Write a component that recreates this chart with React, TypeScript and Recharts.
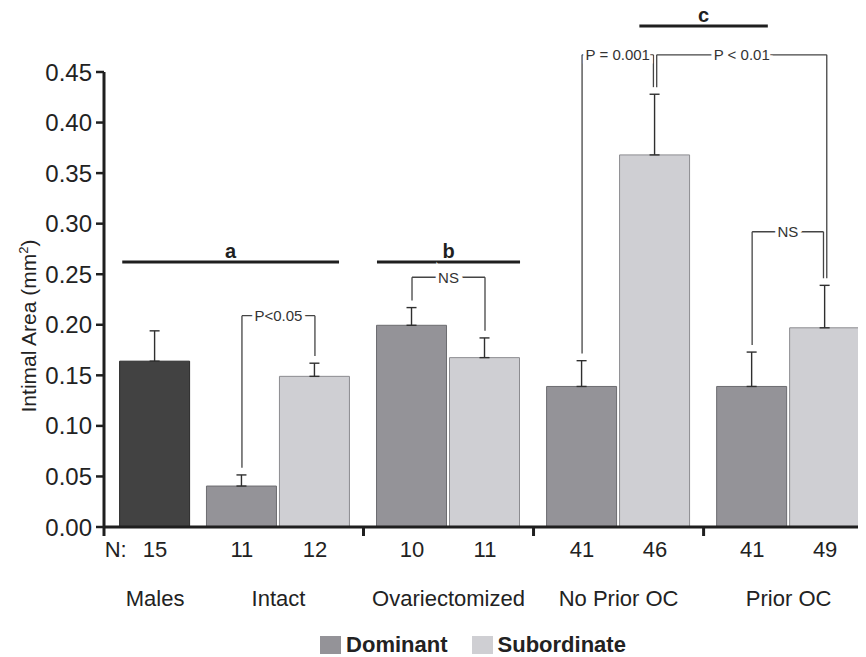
import React from 'react';
import { BarChart, Bar, Cell, XAxis, YAxis, ErrorBar, ReferenceLine, Legend } from 'recharts';

// values (mean + SEM, upper whisker only)
const groupNames = ['Males', 'Intact', 'Ovariectomized', 'No Prior OC', 'Prior OC'];
const malesMean = 0.164;
const malesSem = 0.03;
const malesN = 15;
const dominantMeans = [0.0405, 0.1995, 0.139, 0.139];
const dominantSem = [0.011, 0.0175, 0.0255, 0.034];
const dominantN = [11, 10, 41, 41];
const subordinateMeans = [0.149, 0.1675, 0.368, 0.197];
const subordinateSem = [0.013, 0.0195, 0.06, 0.042];
const subordinateN = [12, 11, 46, 49];
const yTicks = [0, 0.05, 0.1, 0.15, 0.2, 0.25, 0.3, 0.35, 0.4, 0.45];

// significance brackets, by bar index (0 = Males, then Dom/Sub pairs)
const comparisons = [
  { from: 1, to: 2, label: 'P<0.05', level: 0.209 },
  { from: 3, to: 4, label: 'NS', level: 0.247 },
  { from: 5, to: 6, label: 'P = 0.001', level: 0.467 },
  { from: 6, to: 8, label: 'P < 0.01', level: 0.467 },
  { from: 7, to: 8, label: 'NS', level: 0.292 },
];
const groupLetters = ['a', 'b', 'c'];

const FONT = '"Liberation Sans", Arial, Helvetica, sans-serif';
const MALE_FILL = '#424242';
const DOM_FILL = '#949398';
const SUB_FILL = '#cfcfd3';
const INK = '#1f1f1f';

const legendItems = [
  { name: 'Dominant', color: DOM_FILL },
  { name: 'Subordinate', color: SUB_FILL },
];

// x layout in "bar pitch" units
const X_MAX = 10.44;
const MALES_X = 0.7;
const FIRST_PAIR = 1.89;
const PAIR_STEP = 2.33;
const pairX = (g: number) => FIRST_PAIR + PAIR_STEP * g;

const rows = [
  { x: MALES_X, value: malesMean, err: [0, malesSem], n: malesN, kind: 'male' },
  ...dominantMeans.flatMap((m, g) => [
    { x: pairX(g), value: m, err: [0, dominantSem[g]], n: dominantN[g], kind: 'dom' },
    { x: pairX(g) + 1, value: subordinateMeans[g], err: [0, subordinateSem[g]], n: subordinateN[g], kind: 'sub' },
  ]),
];

const fills: Record<string, string> = { male: MALE_FILL, dom: DOM_FILL, sub: SUB_FILL };
const edges: Record<string, string> = { male: '#2a2a2a', dom: '#6c6c70', sub: '#8c8c90' };

const separators = [0, 1, 2].map((g) => pairX(g) + 1 + (PAIR_STEP - 1) / 2);
const nTicks = [0.16, ...rows.map((r) => r.x)];
const nLabels = ['N:', ...rows.map((r) => String(r.n))];
const groupTicks = [MALES_X, ...dominantMeans.map((_, g) => pairX(g) + 0.5)];

const LEG_GAP = 0.007;
const DOUBLE_GAP = 0.045;

const legsByBar: Record<number, { ci: number; from: boolean; level: number }[]> = {};
comparisons.forEach((c, ci) => {
  (legsByBar[c.from] ||= []).push({ ci, from: true, level: c.level });
  (legsByBar[c.to] ||= []).push({ ci, from: false, level: c.level });
});

function legShift(bar: number, ci: number) {
  const legs = legsByBar[bar];
  if (legs.length < 2) return 0;
  const sorted = [...legs].sort((a, b) => Number(a.from) - Number(b.from) || a.level - b.level);
  const k = sorted.findIndex((l) => l.ci === ci);
  return (k - (sorted.length - 1) / 2) * DOUBLE_GAP;
}

const bracketLabel = (text: string) => (props: any) => {
  const vb = props.viewBox || {};
  const cx = vb.x + (vb.width || 0) / 2;
  const cy = vb.y + (vb.height || 0) / 2;
  return (
    <text
      x={cx}
      y={cy}
      dy="0.36em"
      textAnchor="middle"
      fontSize={15}
      fill="#333"
      stroke="#fff"
      strokeWidth={7}
      paintOrder="stroke"
      style={{ fontFamily: FONT }}
    >
      {text}
    </text>
  );
};

function bracket(c: (typeof comparisons)[number], ci: number) {
  const a = rows[c.from];
  const b = rows[c.to];
  const lx = a.x + legShift(c.from, ci);
  const rx = b.x + legShift(c.to, ci);
  const common = { xAxisId: 'x0', stroke: '#444', strokeWidth: 1.3, ifOverflow: 'visible' as const };
  return [
    <ReferenceLine key={`bl${ci}`} {...common} segment={[{ x: lx, y: a.value + a.err[1] + LEG_GAP }, { x: lx, y: c.level }]} />,
    <ReferenceLine key={`br${ci}`} {...common} segment={[{ x: rx, y: b.value + b.err[1] + LEG_GAP }, { x: rx, y: c.level }]} />,
    <ReferenceLine
      key={`bh${ci}`}
      {...common}
      segment={[{ x: lx, y: c.level }, { x: rx, y: c.level }]}
      label={bracketLabel(c.label)}
    />,
  ];
}

// spans of the lettered group lines
const letterSpans = [
  { x1: MALES_X - 0.45, x2: pairX(0) + 1.33, y: 0.262 },
  { x1: pairX(1) - 0.48, x2: pairX(1) + 1.48, y: 0.262 },
  { x1: separators[2] - 0.88, x2: separators[2] + 0.88, y: 0.4955 },
];

const YLabel = () => (
  <text
    x={28}
    y={326}
    textAnchor="middle"
    transform="rotate(-90, 28, 326)"
    fontSize={21}
    fill="#222"
    style={{ fontFamily: FONT }}
  >
    Intimal Area (mm
    <tspan dy={-8} fontSize={13}>2</tspan>
    <tspan dy={8}>)</tspan>
  </text>
);

const renderLegend = () => (
  <div
    style={{
      display: 'flex',
      justifyContent: 'center',
      alignItems: 'center',
      height: 24,
      paddingLeft: 72,
      fontFamily: FONT,
      fontWeight: 'bold',
      fontSize: 22,
      color: '#222',
    }}
  >
    {legendItems.map((it, i) => (
      <span key={it.name} style={{ display: 'flex', alignItems: 'center', marginLeft: i ? 24 : 0 }}>
        <span style={{ width: 21, height: 18, background: it.color, marginRight: 5, display: 'inline-block' }} />
        {it.name}
      </span>
    ))}
  </div>
);

const labelAxis = {
  type: 'number' as const,
  dataKey: 'x',
  domain: [0, X_MAX],
  allowDataOverflow: true,
  interval: 0,
  tickSize: 0,
  axisLine: false,
  tickLine: false,
  tick: { fontSize: 22, fill: '#222' },
};

const App: React.FC = () => {
  return (
    <div style={{ width: 858, height: 657, marginTop: -8, fontFamily: FONT }}>
      <BarChart width={858} height={657} data={rows} margin={{ top: 72, right: 0, left: 0, bottom: 0 }}>
        <XAxis
          xAxisId="x0"
          type="number"
          dataKey="x"
          domain={[0, X_MAX]}
          allowDataOverflow
          ticks={[0, ...separators]}
          interval={0}
          tickSize={9}
          tickFormatter={() => ''}
          height={12}
          axisLine={{ stroke: INK, strokeWidth: 3 }}
          tickLine={{ stroke: INK, strokeWidth: 3 }}
        />
        <XAxis
          xAxisId="x1"
          {...labelAxis}
          ticks={nTicks}
          tickMargin={2}
          height={48}
          tickFormatter={(_v: number, i: number) => nLabels[i]}
        />
        <XAxis
          xAxisId="x2"
          {...labelAxis}
          ticks={groupTicks}
          tickMargin={3}
          height={46}
          tickFormatter={(_v: number, i: number) => groupNames[i]}
        />
        <YAxis
          type="number"
          domain={[0, 0.45]}
          ticks={yTicks}
          interval={0}
          width={96}
          tickSize={8}
          tickMargin={4}
          tickFormatter={(v: number) => v.toFixed(2)}
          tick={{ fontSize: 24, fill: '#222' }}
          axisLine={{ stroke: INK, strokeWidth: 3 }}
          tickLine={{ stroke: INK, strokeWidth: 2.5 }}
          label={<YLabel />}
        />
        <Legend verticalAlign="bottom" height={24} content={renderLegend} />
        <Bar xAxisId="x0" dataKey="value" barSize={70} isAnimationActive={false} strokeWidth={1}>
          {rows.map((r, i) => (
            <Cell key={i} fill={fills[r.kind]} stroke={edges[r.kind]} />
          ))}
          <ErrorBar dataKey="err" direction="y" width={5} stroke="#2f2f2f" strokeWidth={1.4} />
        </Bar>
        {letterSpans.map((s, i) => (
          <ReferenceLine
            key={`g${i}`}
            xAxisId="x0"
            ifOverflow="visible"
            segment={[{ x: s.x1, y: s.y }, { x: s.x2, y: s.y }]}
            stroke={INK}
            strokeWidth={3}
            label={{ value: groupLetters[i], position: 'top', offset: 4, fontSize: 20, fontWeight: 'bold', fill: INK }}
          />
        ))}
        {comparisons.flatMap((c, ci) => bracket(c, ci))}
      </BarChart>
    </div>
  );
};

export default App;
